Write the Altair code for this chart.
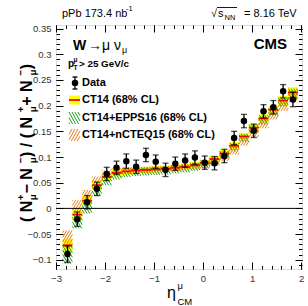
import altair as alt
import numpy as np
import pandas as pd

# ---------------- data ----------------
eta = [-2.765, -2.565, -2.365, -2.165, -1.965, -1.765, -1.565, -1.365, -1.165, -0.965,
       -0.765, -0.565, -0.365, -0.165, 0.035, 0.235, 0.435, 0.635, 0.835, 1.035,
       1.235, 1.435, 1.635, 1.835]
data_y = [-0.089, -0.021, 0.012, 0.038, 0.067, 0.079, 0.092, 0.081, 0.104, 0.091,
          0.075, 0.087, 0.093, 0.099, 0.089, 0.088, 0.102, 0.137, 0.170, 0.151,
          0.189, 0.197, 0.228, 0.212]
data_err = [0.016, 0.014, 0.013, 0.013, 0.013, 0.013, 0.014, 0.013, 0.013, 0.013,
            0.013, 0.013, 0.013, 0.013, 0.013, 0.013, 0.013, 0.013, 0.013, 0.013,
            0.013, 0.013, 0.013, 0.014]
ct14_c = [-0.072, -0.012, 0.015, 0.045, 0.061, 0.069, 0.072, 0.074, 0.075, 0.076,
          0.077, 0.079, 0.081, 0.084, 0.089, 0.096, 0.107, 0.122, 0.140, 0.157,
          0.175, 0.192, 0.210, 0.226]
ct14_hw = [0.013, 0.012, 0.010, 0.009, 0.008, 0.007, 0.007, 0.006, 0.006, 0.006,
           0.006, 0.006, 0.006, 0.006, 0.006, 0.006, 0.007, 0.007, 0.007, 0.008,
           0.008, 0.008, 0.009, 0.010]
epps_c = [-0.090, -0.025, 0.002, 0.034, 0.054, 0.064, 0.069, 0.071, 0.072, 0.073,
          0.074, 0.076, 0.078, 0.081, 0.086, 0.093, 0.104, 0.119, 0.137, 0.154,
          0.172, 0.189, 0.207, 0.223]
epps_hw = [0.018, 0.014, 0.012, 0.010, 0.009, 0.008, 0.008, 0.008, 0.008, 0.008,
           0.008, 0.008, 0.008, 0.008, 0.008, 0.008, 0.008, 0.008, 0.008, 0.009,
           0.009, 0.009, 0.009, 0.010]
ncteq_c = [-0.058, 0.004, 0.026, 0.053, 0.067, 0.072, 0.074, 0.075, 0.075, 0.076,
           0.077, 0.078, 0.080, 0.082, 0.085, 0.090, 0.099, 0.113, 0.130, 0.146,
           0.164, 0.181, 0.199, 0.215]
ncteq_hw = [0.015, 0.012, 0.010, 0.009, 0.007, 0.006, 0.006, 0.006, 0.006, 0.006,
            0.006, 0.006, 0.006, 0.006, 0.007, 0.007, 0.007, 0.008, 0.008, 0.008,
            0.008, 0.008, 0.009, 0.009]

x_major = [-3, -2, -1, 0, 1, 2]
y_major = [-0.1, -0.05, 0, 0.05, 0.1, 0.15, 0.2, 0.25, 0.3, 0.35]

# ---------------- layout ----------------
OX, OY = 56, 25          # plot origin in the page
W, H = 246, 244
XDOM = [-3, 2.02]
YDOM = [-0.118, 0.357]
FONT = "Liberation Sans"
BW = 0.1                 # half bin width

xs = alt.Scale(domain=XDOM, nice=False, zero=False)
ys = alt.Scale(domain=YDOM, nice=False, zero=False)

x_minor = list(np.round(np.arange(-3, 2.001, 0.2), 2))
y_minor = list(np.round(np.arange(-0.11, 0.3501, 0.01), 3))

pts = pd.DataFrame({"eta": eta, "y": data_y, "err": data_err})
pts["lo"] = pts["y"] - pts["err"]
pts["hi"] = pts["y"] + pts["err"]

ct = pd.DataFrame({"eta": eta, "c": ct14_c, "hw": ct14_hw})
ct["x0"] = ct["eta"] - BW
ct["x1"] = ct["eta"] + BW
ct["lo"] = ct["c"] - ct["hw"]
ct["hi"] = ct["c"] + ct["hw"]


def hatch(centers, halfw, direction, k=6.3, step=0.055):
    rows = []
    for e, c, h in zip(eta, centers, halfw):
        x0, x1, lo, hi = e - BW, e + BW, c - h, c + h
        span = k * (hi - lo)
        if direction > 0:
            cs = np.arange(np.floor((x0 - span) / step) * step, x1 + step, step)
            for cc in cs:
                ys_ = max(lo, lo + (x0 - cc) / k)
                ye_ = min(hi, lo + (x1 - cc) / k)
                if ye_ > ys_:
                    rows.append((cc + k * (ys_ - lo), ys_, cc + k * (ye_ - lo), ye_))
        else:
            cs = np.arange(np.floor(x0 / step) * step, x1 + span + step, step)
            for cc in cs:
                ys_ = max(lo, lo + (cc - x1) / k)
                ye_ = min(hi, lo + (cc - x0) / k)
                if ye_ > ys_:
                    rows.append((cc - k * (ys_ - lo), ys_, cc - k * (ye_ - lo), ye_))
    return pd.DataFrame(rows, columns=["xa", "ya", "xb", "yb"])


GREEN = "#1e9e1e"
ORANGE = "#f07a10"
YELLOW = "#ffff00"
RED = "#ff0000"


def X(f):
    return alt.X(f, scale=xs, axis=None)


def Y(f):
    return alt.Y(f, scale=ys, axis=None)


band = alt.Chart(ct).mark_rect(color=YELLOW).encode(
    x=X("x0:Q"), x2="x1", y=Y("lo:Q"), y2="hi")
epps_h = alt.Chart(hatch(epps_c, epps_hw, -1)).mark_rule(color=GREEN, strokeWidth=1).encode(
    x=X("xa:Q"), y=Y("ya:Q"), x2="xb", y2="yb")
ncteq_h = alt.Chart(hatch(ncteq_c, ncteq_hw, +1)).mark_rule(color=ORANGE, strokeWidth=1).encode(
    x=X("xa:Q"), y=Y("ya:Q"), x2="xb", y2="yb")
ctline = alt.Chart(ct).mark_rule(color=RED, strokeWidth=1.8).encode(
    x=X("x0:Q"), x2="x1", y=Y("c:Q"))
zero = alt.Chart(pd.DataFrame({"z": [0.0]})).mark_rule(color="black", strokeWidth=1).encode(
    y=Y("z:Q"), x=alt.value(0), x2=alt.value(W))
ebar = alt.Chart(pts).mark_rule(color="black", strokeWidth=1.3).encode(
    x=X("eta:Q"), y=Y("lo:Q"), y2="hi")
cap_lo = alt.Chart(pts).mark_tick(color="black", orient="horizontal", size=6, thickness=1.3).encode(
    x=X("eta:Q"), y=Y("lo:Q"))
cap_hi = alt.Chart(pts).mark_tick(color="black", orient="horizontal", size=6, thickness=1.3).encode(
    x=X("eta:Q"), y=Y("hi:Q"))
dots = alt.Chart(pts).mark_point(filled=True, shape="circle", size=42, color="black", opacity=1).encode(
    x=X("eta:Q"), y=Y("y:Q"))

# ---------------- axes (ROOT style inward ticks) ----------------
dummy_xy = pd.DataFrame({"x": [0.0], "y": [0.0]})


def axis_layer(xa, ya):
    return alt.Chart(dummy_xy).mark_point(opacity=0).encode(
        x=alt.X("x:Q", scale=xs, axis=xa), y=alt.Y("y:Q", scale=ys, axis=ya))


common = dict(domain=False, grid=False, title=None, tickColor="black", tickWidth=1)
lab_x = alt.Axis(orient="bottom", values=x_major, tickSize=0, labels=True, format="~g",
                 labelFont=FONT, labelFontSize=9.5, labelColor="#333333", labelPadding=4,
                 labelFlush=False, labelOverlap=False, **common)
lab_y = alt.Axis(orient="left", values=y_major, tickSize=0, labels=True, format="~g",
                 labelFont=FONT, labelFontSize=9.5, labelColor="#333333", labelPadding=5,
                 labelOverlap=False, **common)
axes = [
    axis_layer(lab_x, lab_y),
    axis_layer(alt.Axis(orient="bottom", values=x_major, tickSize=7, offset=-7, labels=False, **common),
               alt.Axis(orient="left", values=y_major, tickSize=7, offset=-7, labels=False, **common)),
    axis_layer(alt.Axis(orient="bottom", values=x_minor, tickSize=3.5, offset=-3.5, labels=False, **common),
               alt.Axis(orient="left", values=y_minor, tickSize=3.5, offset=-3.5, labels=False, **common)),
    axis_layer(alt.Axis(orient="top", values=x_major, tickSize=7, offset=-7, labels=False, **common),
               alt.Axis(orient="right", values=y_major, tickSize=7, offset=-7, labels=False, **common)),
    axis_layer(alt.Axis(orient="top", values=x_minor, tickSize=3.5, offset=-3.5, labels=False, **common),
               alt.Axis(orient="right", values=y_minor, tickSize=3.5, offset=-3.5, labels=False, **common)),
]

# ---------------- annotations ----------------
dummy = pd.DataFrame({"a": [0]})


def txt(s, px, py, size, bold=False, align="left", baseline="alphabetic", angle=0, font=FONT):
    kw = dict(text=s, align=align, baseline=baseline, fontSize=size, font=font,
              color="black", fontWeight="bold" if bold else "normal")
    if angle:
        kw["angle"] = angle
    return alt.Chart(dummy).mark_text(**kw).encode(x=alt.value(px - OX), y=alt.value(py - OY))


def hline(xa, xb, y, color="black", w=1):
    return alt.Chart(dummy).mark_rule(color=color, strokeWidth=w).encode(
        x=alt.value(xa - OX), x2=alt.value(xb - OX), y=alt.value(y - OY))


def vline(x, ya, yb, color="black", w=1):
    return alt.Chart(dummy).mark_rule(color=color, strokeWidth=w).encode(
        x=alt.value(x - OX), y=alt.value(ya - OY), y2=alt.value(yb - OY))


notes = [
    # top labels
    txt("pPb 173.4 nb", 62, 17, 11),
    txt("-1", 126, 11, 7.5),
    txt("\u221a", 211, 17, 11),
    txt("s", 218, 17, 11),
    txt("NN", 224.5, 20, 7.5),
    hline(217, 237, 7.5, w=0.9),
    txt("= 8.16 TeV", 244, 17, 11),
    # physics labels
    txt("W", 73, 50, 14, bold=True),
    txt("\u2192\u03bc \u03bd", 88, 50, 14),
    txt("\u03bc", 122, 53, 9),
    txt("CMS", 287, 49, 15, bold=True, align="right"),
    txt("p", 68, 67, 10, bold=True),
    txt("T", 73.5, 70, 6.5, bold=True),
    txt("\u03bc", 73.5, 62, 6.5, bold=True),
    txt("> 25 GeV/c", 79, 67, 9.8, bold=True),
    # legend text
    txt("Data", 82, 83, 11, bold=True, baseline="middle"),
    txt("CT14 (68% CL)", 82, 100, 11, bold=True, baseline="middle"),
    txt("CT14+EPPS16 (68% CL)", 82, 118, 11, bold=True, baseline="middle"),
    txt("CT14+nCTEQ15 (68% CL)", 82, 135, 11, bold=True, baseline="middle"),
    # x title
    txt("\u03b7", 167, 298, 16),
    txt("\u03bc", 177.5, 289, 9.5),
    txt("CM", 177.5, 305, 9.5),
]

# y title pieces (rotated, reading upward)
YF = 16
SF = 9.8
yt_base = 31.5
yt_sup = 24.0
yt_sub = 36.0
ytitle = [
    txt("( N", yt_base, 222, YF, bold=True, angle=270),
    txt("+", yt_sup, 200.2, SF, bold=True, angle=270),
    txt("\u03bc", yt_sub, 200.2, SF, bold=True, angle=270),
    txt(" \u2212 N", yt_base, 193.5, YF, bold=True, angle=270),
    txt("\u2212", yt_sup, 163.2, SF, bold=True, angle=270),
    txt("\u03bc", yt_sub, 163.2, SF, bold=True, angle=270),
    txt(" ) / ( N", yt_base, 157, YF, bold=True, angle=270),
    txt("+", yt_sup, 112.2, SF, bold=True, angle=270),
    txt("\u03bc", yt_sub, 112.2, SF, bold=True, angle=270),
    txt(" + N", yt_base, 105.8, YF, bold=True, angle=270),
    txt("\u2212", yt_sup, 75.6, SF, bold=True, angle=270),
    txt("\u03bc", yt_sub, 75.6, SF, bold=True, angle=270),
    txt(" )", yt_base, 69.3, YF, bold=True, angle=270),
]

# legend glyphs
leg = [
    vline(75, 77, 89, w=1.3),
    hline(72.5, 77.5, 77, w=1.3),
    hline(72.5, 77.5, 89, w=1.3),
    alt.Chart(dummy).mark_point(filled=True, shape="circle", size=42, color="black", opacity=1).encode(
        x=alt.value(75 - OX), y=alt.value(83 - OY)),
    alt.Chart(dummy).mark_rect(color=YELLOW).encode(
        x=alt.value(69 - OX), x2=alt.value(80 - OX), y=alt.value(95.5 - OY), y2=alt.value(104.5 - OY)),
    hline(69, 80, 100, color=RED, w=1.8),
]


def leg_hatch(x0, x1, y0, y1, direction, color, step=3.0, k=0.55):
    rows = []
    h = y1 - y0
    span = k * h
    for i in range(-10, 20):
        cc = x0 - span + i * step if direction > 0 else x0 + i * step
        if direction > 0:
            t0 = max(0.0, (x0 - cc) / k)
            t1 = min(h, (x1 - cc) / k)
            if t1 > t0:
                rows.append((cc + k * t0 - OX, y1 - t0 - OY, cc + k * t1 - OX, y1 - t1 - OY))
        else:
            t0 = max(0.0, (x0 - cc) / k)
            t1 = min(h, (x1 - cc) / k)
            if t1 > t0:
                rows.append((cc + k * t0 - OX, y0 + t0 - OY, cc + k * t1 - OX, y0 + t1 - OY))
    df = pd.DataFrame(rows, columns=["xa", "ya", "xb", "yb"])
    return alt.Chart(df).mark_rule(color=color, strokeWidth=1).encode(
        x=alt.X("xa:Q", scale=None), y=alt.Y("ya:Q", scale=None),
        x2="xb", y2="yb")


leg += [
    leg_hatch(69, 80, 112, 124, -1, GREEN),
    leg_hatch(69, 80, 129, 141, +1, ORANGE),
]

layers = [band, epps_h, ncteq_h, ctline, zero, ebar, cap_lo, cap_hi, dots] + axes + notes + ytitle + leg

chart = alt.layer(*layers).resolve_axis(x="independent", y="independent").properties(
    width=W, height=H,
    padding={"left": OX, "top": OY, "right": 308 - OX - W, "bottom": 306 - OY - H},
    autosize=alt.AutoSizeParams(type="none"),
).configure_view(stroke="black", strokeWidth=1).configure(background="white")

chart.save("out.html", embed_options={"renderer": "svg", "actions": False})
